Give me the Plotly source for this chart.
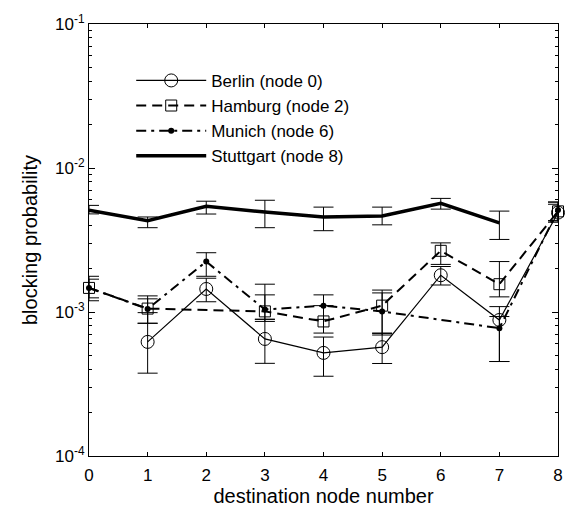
import plotly.graph_objects as go

# ---- data ----
berlin_x = [1, 2, 3, 4, 5, 6, 7, 8]
berlin_y = [6.2e-4, 1.445e-3, 6.5e-4, 5.2e-4, 5.7e-4, 1.8e-3, 8.8e-4, 4.9e-3]
berlin_hi = [9.9e-4, 1.716e-3, 8.9e-4, 6.7e-4, 7.1e-4, 2.07e-3, 1.09e-3, 5.6e-3]
berlin_lo = [3.76e-4, 1.178e-3, 4.4e-4, 3.58e-4, 4.39e-4, 1.54e-3, 4.53e-4, 4.3e-3]

hamburg_x = [0, 1, 3, 4, 5, 6, 7, 8]
hamburg_y = [1.47e-3, 1.056e-3, 1.01e-3, 8.6e-4, 1.107e-3, 2.66e-3, 1.56e-3, 5.0e-3]
hamburg_hi = [1.77e-3, 1.294e-3, 1.315e-3, 1.107e-3, 1.42e-3, 3.02e-3, 2.24e-3, 5.8e-3]
hamburg_lo = [1.254e-3, 8.35e-4, 8.6e-4, 7.14e-4, 7.14e-4, 2.14e-3, 1.274e-3, 4.3e-3]

munich_x = [0, 1, 2, 3, 4, 5, 7, 8]
munich_y = [1.47e-3, 1.05e-3, 2.24e-3, 1.04e-3, 1.107e-3, 1.008e-3, 7.72e-4, 5.1e-3]
munich_hi = [1.69e-3, 1.234e-3, 2.58e-3, 1.56e-3, 1.315e-3, 1.357e-3, 9.3e-4, 5.8e-3]
munich_lo = [1.197e-3, 8.35e-4, 1.77e-3, 8.9e-4, 8.89e-4, 6.92e-4, 4.53e-4, 4.2e-3]

stutt_x = [0, 1, 2, 3, 4, 5, 6, 7]
stutt_y = [5.1e-3, 4.3e-3, 5.43e-3, 4.94e-3, 4.57e-3, 4.64e-3, 5.69e-3, 4.16e-3]
stutt_hi = [5.5e-3, 4.57e-3, 5.88e-3, 5.97e-3, 5.35e-3, 5.35e-3, 6.15e-3, 5.02e-3]
stutt_lo = [4.8e-3, 3.85e-3, 4.79e-3, 3.85e-3, 3.67e-3, 4.03e-3, 5.18e-3, 3.19e-3]

x_ticks = [0, 1, 2, 3, 4, 5, 6, 7, 8]
y_tickvals = [1e-4, 1e-3, 1e-2, 1e-1]
y_ticktext = ["10<sup>-4</sup>", "10<sup>-3</sup>", "10<sup>-2</sup>", "10<sup>-1</sup>"]
y_minor = [m * d for d in (1e-4, 1e-3, 1e-2) for m in range(2, 10)]


def err(y, hi, lo):
    return dict(type="data", symmetric=False,
                array=[h - v for h, v in zip(hi, y)],
                arrayminus=[v - l for v, l in zip(y, lo)],
                color="black", thickness=1, width=10)


fig = go.Figure()
fig.add_trace(go.Scatter(
    x=berlin_x, y=berlin_y, name="Berlin (node 0)", mode="lines+markers",
    line=dict(color="black", width=1.2),
    marker=dict(symbol="circle-open", size=13, color="black", line=dict(width=1)),
    error_y=err(berlin_y, berlin_hi, berlin_lo), cliponaxis=False))
fig.add_trace(go.Scatter(
    x=hamburg_x, y=hamburg_y, name="Hamburg (node 2)", mode="lines+markers",
    line=dict(color="black", width=2, dash="10px,6px"),
    marker=dict(symbol="square-open", size=11, color="black", line=dict(width=1)),
    error_y=err(hamburg_y, hamburg_hi, hamburg_lo), cliponaxis=False))
fig.add_trace(go.Scatter(
    x=munich_x, y=munich_y, name="Munich (node 6)", mode="lines+markers",
    line=dict(color="black", width=2, dash="10px,5px,3px,5px"),
    marker=dict(symbol="circle", size=6, color="black"),
    error_y=err(munich_y, munich_hi, munich_lo), cliponaxis=False))
fig.add_trace(go.Scatter(
    x=stutt_x, y=stutt_y, name="Stuttgart (node 8)", mode="lines",
    line=dict(color="black", width=3.5),
    error_y=err(stutt_y, stutt_hi, stutt_lo), cliponaxis=False))

axis_common = dict(showline=True, linecolor="black", linewidth=1, mirror="allticks",
                   ticks="inside", tickcolor="black", showgrid=False, zeroline=False,
                   tickfont=dict(size=17, color="black"))

fig.update_layout(
    width=575, height=511,
    margin=dict(l=89, r=14, t=21, b=49),
    plot_bgcolor="white", paper_bgcolor="white",
    font=dict(family="Liberation Sans, Arial, sans-serif", color="black"),
    xaxis=dict(range=[0, 8], tickvals=x_ticks, ticklen=4, ticklabelstandoff=4,
               title=dict(text="destination node number", font=dict(size=20), standoff=0),
               **axis_common),
    yaxis=dict(type="log", range=[-4, -1], tickvals=y_tickvals, ticktext=y_ticktext,
               ticklen=6,
               minor=dict(tickvals=y_minor, ticks="inside", ticklen=3,
                          tickcolor="black", showgrid=False),
               title=dict(text="blocking probability", font=dict(size=20), standoff=12),
               **axis_common),
    legend=dict(x=0.09, y=0.91, xanchor="left", yanchor="top",
                bgcolor="rgba(0,0,0,0)", font=dict(size=17, color="black"),
                tracegroupgap=0, itemwidth=70),
    showlegend=True,
)

fig.write_html("out.html")
